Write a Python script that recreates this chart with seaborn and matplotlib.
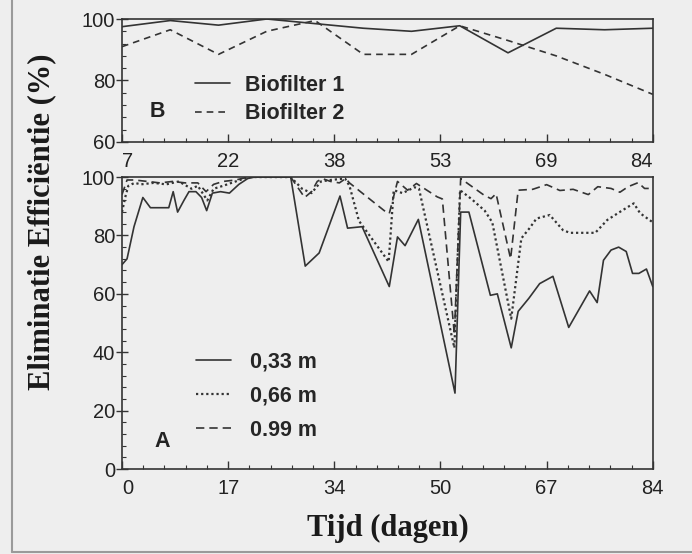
import numpy as np
import matplotlib
matplotlib.use("Agg")
import matplotlib.pyplot as plt
import seaborn as sns
from matplotlib.ticker import MultipleLocator, AutoMinorLocator
from matplotlib.lines import Line2D

# -------------------------
# Data
# -------------------------
# Panel B: weekly efficiency of the two biofilters
days_b = [7, 14, 21, 28, 35, 42, 49, 56, 63, 70, 77, 84]
biofilter1 = [97.5, 99.5, 98, 100, 98.5, 97, 96, 97.8, 89, 97, 96.5, 97]
biofilter2 = [91, 96.5, 88.5, 96, 99.5, 88.5, 88.5, 97.8, 93, 88, 82, 75.5]

# Panel A: efficiency at three heights in the filter bed
days_033 = [0, 0.8, 1.9, 3.3, 4.5, 7.4, 8.1, 8.8, 9.8, 10.6, 11.7, 12.6, 13.4,
            14.3, 15.6, 17, 18.5, 19.9, 21, 26.7, 29, 31.2, 34.5, 35.7, 38,
            42.3, 43.6, 44.8, 46.9, 52.7, 53.6, 54.9, 58.3, 59.4, 61.6, 62.7,
            64.4, 66.1, 68.2, 70.7, 74.0, 75.2, 76.2, 77.4, 78.6, 79.8, 80.8,
            81.8, 83.0, 84]
eff_033 = [70, 72, 83, 93, 89.5, 89.5, 95, 88, 92, 95, 95, 93, 88.5,
           94.5, 95, 94.5, 97.5, 99.5, 100, 100, 69.5, 74, 93.5, 82.5, 83,
           62.5, 79.5, 76.5, 85.5, 26, 88, 88, 59.5, 60, 41.5, 54,
           58.5, 63.5, 66, 48.5, 61, 57, 71.5, 75, 76, 74.5, 67,
           67, 68.5, 62.5]

days_066 = [0, 0.5, 1, 2, 3, 5, 7, 9, 11, 12, 13.5, 14.5, 16, 18, 20, 26.7,
            28.5, 30, 31.5, 33, 35.3, 36, 37.5, 42.2, 43, 44.4, 46.3, 47,
            52.6, 53.5, 55.3, 57.4, 58.6, 61.6, 63.2, 64.5, 65.6, 67.7, 69.8,
            70.9, 73.6, 74.9, 76.8, 78.9, 81.0, 82.0, 84]
eff_066 = [88, 93, 97, 98, 97.5, 98, 97.5, 98.5, 96, 97, 92, 96, 97, 98.5, 100, 100,
           96, 94.5, 98.5, 99, 99.5, 97, 85, 71, 95.5, 94.5, 96.5, 96,
           41.5, 95.5, 92.5, 88.5, 84.5, 51.5, 79, 82.5, 85.8, 87, 81.8,
           80.9, 80.9, 80.9, 85.3, 88.2, 91, 87.6, 84.5]

days_099 = [0, 0.8, 2, 4, 6, 8, 10, 12, 13.3, 14.5, 16, 18, 20, 26.7, 28.9,
            30, 30.9, 31.7, 33, 34.4, 35.4, 36, 41.5, 42.3, 43.6, 45.2, 46.6,
            49.9, 50.7, 52.6, 53.6, 57.3, 58.4, 59.2, 61.5, 62.7, 65.0, 67.2,
            69.3, 71.4, 73.8, 75.3, 77.4, 78.8, 80.1, 81.7, 82.7, 84]
eff_099 = [94, 99, 99, 98.5, 98, 98.5, 98, 98, 95, 97.5, 98.5, 99, 100, 100, 93,
           95, 98.5, 99.5, 98.5, 98, 99.5, 98, 88.5, 87.5, 98.5, 95.5, 97.8,
           93.2, 92.5, 46, 99.5, 93.8, 92.6, 94.3, 72, 95.5, 95.8, 97.4,
           95.4, 95.8, 94, 96.7, 96.1, 94.8, 96.7, 98.1, 96.1, 96.1]

# tick labels (evenly spaced, rounded in the original)
xlabels_b = ["7", "22", "38", "53", "69", "84"]
xlabels_a = ["0", "17", "34", "50", "67", "84"]

# -------------------------
# Style
# -------------------------
sns.set_theme(style="ticks")
plt.rcParams['font.family'] = ['Liberation Sans', 'DejaVu Sans']
bg = '#eeeeee'
ink = '#333333'
fs_tick = 14.5
fs_leg = 15.5

fig = plt.figure(figsize=(6.92, 5.54), dpi=100, facecolor=bg)
ax_b = fig.add_axes([0.1763, 0.7437, 0.767, 0.222], facecolor=bg)
ax_a = fig.add_axes([0.1763, 0.1534, 0.767, 0.527], facecolor=bg)

# -------------------------
# Panel B
# -------------------------
sns.lineplot(x=days_b, y=biofilter1, ax=ax_b, color=ink, lw=1.2,
             estimator=None, label="Biofilter 1")
sns.lineplot(x=days_b, y=biofilter2, ax=ax_b, color=ink, lw=1.2,
             estimator=None, linestyle=(0, (4, 3)), label="Biofilter 2")
ax_b.set_xlim(7, 84)
ax_b.set_ylim(60, 100)
ax_b.set_xticks(np.linspace(7, 84, len(xlabels_b)))
ax_b.set_xticklabels(xlabels_b)
ax_b.set_yticks([60, 80, 100])
ax_b.text(0.066, 0.245, "B", transform=ax_b.transAxes, fontsize=fs_leg,
          fontweight='bold', ha='center', va='center', color='#222222')
ax_b.legend(loc='center left', bbox_to_anchor=(0.137, 0.345), frameon=False,
            prop={'weight': 'bold', 'size': fs_leg}, handlelength=1.65,
            handletextpad=0.7, labelspacing=0.35, borderpad=0, borderaxespad=0)

# -------------------------
# Panel A
# -------------------------
sns.lineplot(x=days_033, y=eff_033, ax=ax_a, color=ink, lw=1.2,
             estimator=None, label="0,33 m")
sns.lineplot(x=days_066, y=eff_066, ax=ax_a, color=ink, lw=1.6,
             estimator=None, linestyle=(0, (1, 1.3)), label="0,66 m")
sns.lineplot(x=days_099, y=eff_099, ax=ax_a, color=ink, lw=1.2,
             estimator=None, linestyle=(0, (5, 3)), label="0.99 m")
ax_a.set_xlim(0, 84)
ax_a.set_ylim(0, 100)
ax_a.set_xticks(np.linspace(0, 84, len(xlabels_a)))
ax_a.set_xticklabels(xlabels_a)
ax_a.set_yticks([0, 20, 40, 60, 80, 100])
ax_a.text(0.075, 0.093, "A", transform=ax_a.transAxes, fontsize=fs_leg,
          fontweight='bold', ha='center', va='center', color='#222222')
ax_a.legend(loc='center left', bbox_to_anchor=(0.139, 0.249), frameon=False,
            prop={'weight': 'bold', 'size': fs_leg}, handlelength=1.65,
            handletextpad=0.85, labelspacing=0.6, borderpad=0, borderaxespad=0)

# common axis styling
for ax in (ax_a, ax_b):
    ax.set_xlabel("")
    ax.set_ylabel("")
    ax.yaxis.set_minor_locator(MultipleLocator(4))
    ax.xaxis.set_minor_locator(AutoMinorLocator(5))
    ax.tick_params(axis='x', which='major', direction='in', length=6,
                   width=1, color=ink, labelsize=fs_tick, pad=7, labelcolor='#222222')
    ax.tick_params(axis='x', which='minor', direction='in', length=3,
                   width=0.8, color=ink)
    ax.tick_params(axis='y', which='major', direction='inout', length=8,
                   width=1, color=ink, labelsize=fs_tick, pad=1, labelcolor='#222222')
    ax.tick_params(axis='y', which='minor', direction='in', length=3,
                   width=0.8, color=ink)
    for sp in ax.spines.values():
        sp.set_visible(True)
        sp.set_color(ink)
        sp.set_linewidth(1.2)

# end labels of the x axes sit inside the frame
ax_b.get_xticklabels()[0].set_ha('left')
ax_b.get_xticklabels()[-1].set_ha('right')
ax_a.get_xticklabels()[0].set_ha('left')

# axis titles
fig.text(0.06, 0.6, "Eliminatie Efficiëntie (%)", rotation=90,
         ha='center', va='center', fontsize=22, fontweight='bold',
         family=['Liberation Serif', 'DejaVu Serif'], color='#1a1a1a')
fig.text(0.561, 0.047, "Tijd (dagen)", ha='center', va='center',
         fontsize=22, fontweight='bold',
         family=['Liberation Serif', 'DejaVu Serif'], color='#1a1a1a')

# scanned page frame
fig.add_artist(Line2D([0.0173, 0.0173], [0.004, 1.0], color='#9a9a9a', lw=1.5))
fig.add_artist(Line2D([0.0173, 1.0], [0.004, 0.004], color='#9a9a9a', lw=1.5))

fig.savefig("out.png", dpi=100, facecolor=bg)
